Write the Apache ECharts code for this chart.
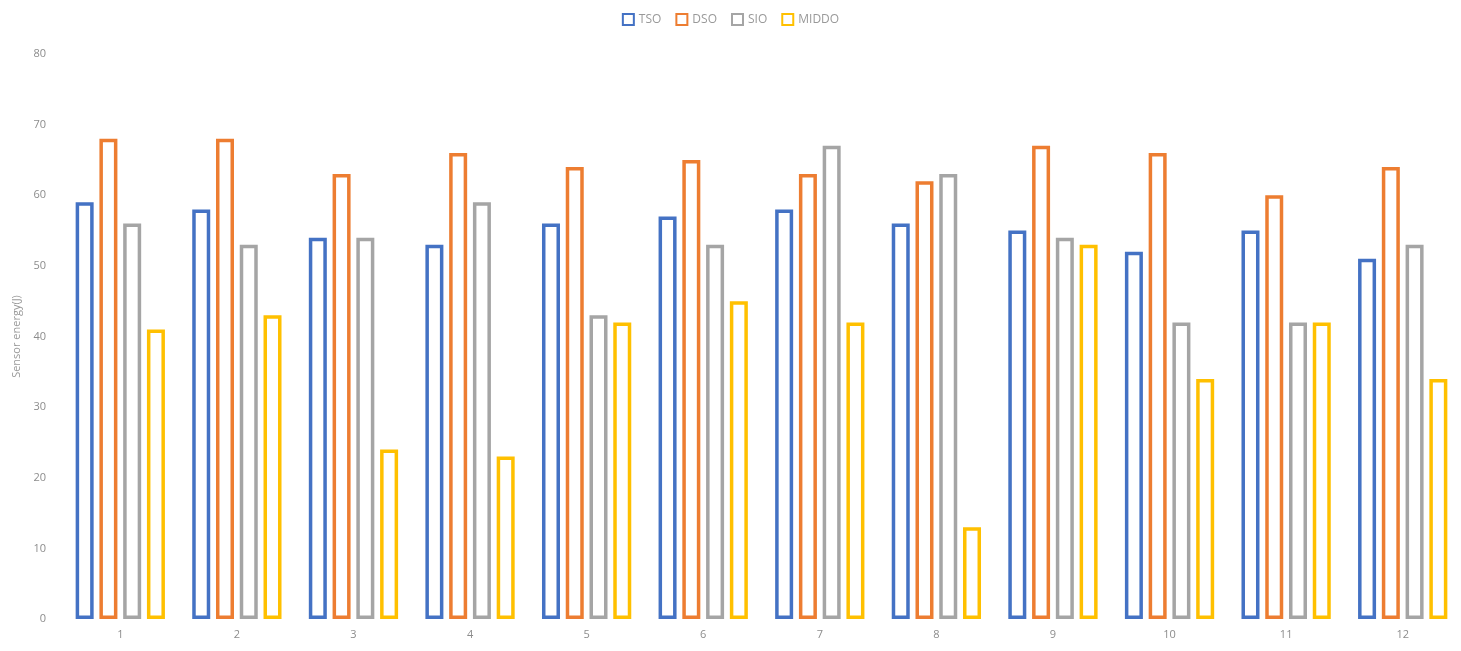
<!DOCTYPE html>
<html>
<head>
<meta charset="utf-8">
<script src="https://cdn.jsdelivr.net/npm/echarts@6/dist/echarts.min.js"></script>
<style>html,body{margin:0;padding:0;background:#fff;}#c{width:1461px;height:651px;}</style>
</head>
<body>
<div id="c"></div>
<script>
const categories = ['1','2','3','4','5','6','7','8','9','10','11','12'];
const seriesNames = ['TSO','DSO','SIO','MIDDO'];
const tso   = [59, 58, 54, 53, 56, 57, 58, 56, 55, 52, 55, 51];
const dso   = [68, 68, 63, 66, 64, 65, 63, 62, 67, 66, 60, 64];
const sio   = [56, 53, 54, 59, 43, 53, 67, 63, 54, 42, 42, 53];
const middo = [41, 43, 24, 23, 42, 45, 42, 13, 53, 34, 42, 34];
const colors = ['#4472C4', '#ED7D31', '#A5A5A5', '#FFC000'];
const allData = [tso, dso, sio, middo];

const chart = echarts.init(document.getElementById('c'));
chart.setOption({
  animation: false,
  textStyle: {fontFamily: 'Open Sans'},
  legend: {
    top: 8, left: 'center',
    itemWidth: 11, itemHeight: 11, itemGap: 14,
    textStyle: {color: '#999', fontSize: 12},
    data: seriesNames.map(n => ({name: n, icon: 'rect'}))
  },
  grid: {left: 62, right: 0, top: 54, bottom: 32},
  xAxis: {
    type: 'category', data: categories,
    axisLine: {show: false}, axisTick: {show: false},
    axisLabel: {color: '#8c8c8c', fontSize: 11, margin: 10}
  },
  yAxis: {
    type: 'value', min: 0, max: 80, interval: 10,
    name: 'Sensor energy(J)', nameLocation: 'middle', nameGap: 24,
    nameTextStyle: {color: '#999', fontSize: 11},
    axisLine: {show: false}, axisTick: {show: false},
    splitLine: {show: false},
    axisLabel: {color: '#8c8c8c', fontSize: 11, margin: 16}
  },
  series: seriesNames.map((n, i) => ({
    name: n, type: 'bar', data: allData[i],
    barWidth: 18, barGap: '32%',
    itemStyle: {color: '#fff', borderColor: colors[i], borderWidth: 3.5}
  }))
});
</script>
</body>
</html>
